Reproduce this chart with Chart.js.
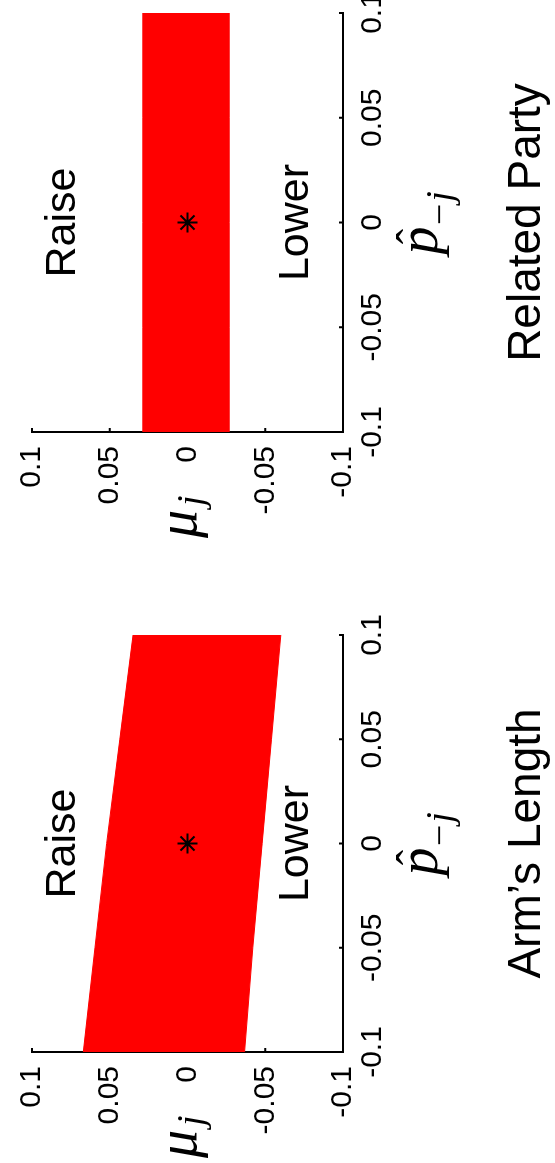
<!DOCTYPE html>
<html lang="en">
<head>
    <meta charset="UTF-8">
    <title>Arm's Length / Related Party</title>
    <style>
        body {
            margin: 0;
            padding: 0;
            background-color: #fff;
            width: 555px;
            height: 1163px;
            overflow: hidden;
            position: relative;
        }

        /* the figure is laid out landscape, then turned a quarter to the left */
        #figure {
            position: absolute;
            left: 0;
            top: 0;
            width: 1220px;
            height: 555px;
            transform-origin: 0 0;
            transform: translate(0px, 1163px) rotate(-90deg);
        }

        #armsChart {
            position: absolute;
            left: 0;
            top: 0;
        }

        #relatedChart {
            position: absolute;
            left: 620px;
            top: 0;
        }
    </style>
</head>
<body>
<div id="figure">
    <canvas id="armsChart" width="620" height="555"></canvas>
    <canvas id="relatedChart" width="600" height="555"></canvas>
</div>
<script src="https://cdn.jsdelivr.net/npm/chart.js"></script>
<script>
    // p-hat grid where the region boundaries were read
    const priceGrid = [-0.1, -0.05, 0, 0.05, 0.1];
    const armsUpper = [0.067, 0.0595, 0.052, 0.0435, 0.035];
    const armsLower = [-0.0367, -0.042, -0.048, -0.054, -0.060];
    const relatedUpper = [0.0287, 0.0287, 0.0287, 0.0287, 0.0287];
    const relatedLower = [-0.0268, -0.0268, -0.0268, -0.0268, -0.0268];
    const starPoint = [0, 0];

    const tickValues = [-0.1, -0.05, 0, 0.05, 0.1];
    const tickLabels = ['-0.1', '-0.05', '0', '0.05', '0.1'];
    const panelTitles = ['Arm\u2019s Length', 'Related Party'];
    const regionLabels = ['Raise', 'Lower'];

    const sansFont = '"Liberation Sans", Arial, Helvetica, sans-serif';
    const serifFont = '"Liberation Serif", "Times New Roman", serif';

    // inward tick marks + the text that Chart.js does not place by itself
    const labelPlugin = {
        id: 'panelLabels',
        beforeDatasetsDraw(chart) {
            const {ctx, chartArea: a, scales: {x, y}} = chart;
            ctx.save();
            ctx.strokeStyle = '#000';
            ctx.lineWidth = 2;
            ctx.beginPath();
            tickValues.forEach(v => {
                const px = x.getPixelForValue(v);
                ctx.moveTo(px, a.bottom);
                ctx.lineTo(px, a.bottom - 4);
                const py = y.getPixelForValue(v);
                ctx.moveTo(a.left, py);
                ctx.lineTo(a.left + 4, py);
            });
            ctx.stroke();
            ctx.restore();
        },
        afterDraw(chart, args, opts) {
            const {ctx, chartArea: a, scales: {x, y}} = chart;
            const cx = x.getPixelForValue(0);
            const zeroY = y.getPixelForValue(0);
            ctx.save();
            ctx.fillStyle = '#000';

            // Raise / Lower
            ctx.font = '43px ' + sansFont;
            ctx.textAlign = 'center';
            ctx.textBaseline = 'middle';
            ctx.fillText(regionLabels[0], cx, y.getPixelForValue(0.08));
            ctx.fillText(regionLabels[1], cx, y.getPixelForValue(-0.07));

            // panel title
            ctx.textBaseline = 'alphabetic';
            ctx.font = '46px ' + sansFont;
            ctx.fillText(opts.title, (a.left + a.right) / 2, a.bottom + 197);

            // x label: p-hat sub -j
            ctx.textAlign = 'left';
            ctx.font = 'italic 56px ' + serifFont;
            ctx.fillText('p', cx - 32, a.bottom + 94);
            ctx.textAlign = 'center';
            ctx.font = '46px ' + serifFont;
            ctx.fillText('\u02C6', cx - 14, a.bottom + 86);
            ctx.textAlign = 'left';
            ctx.font = 'italic 38px ' + serifFont;
            ctx.fillText('\u2212j', cx - 5, a.bottom + 109);

            // y label: mu sub j
            ctx.font = 'italic 56px ' + serifFont;
            ctx.fillText('\u03BC', a.left - 106, zeroY + 8);
            ctx.font = 'italic 38px ' + serifFont;
            ctx.fillText('j', a.left - 74, zeroY + 15);

            ctx.restore();
        }
    };

    function axisOptions(isX) {
        return {
            type: 'linear',
            min: -0.1,
            max: 0.1,
            afterBuildTicks: s => { s.ticks = tickValues.map(v => ({value: v})); },
            afterFit: s => {
                if (isX) s.height = 212;
                else s.width = 111;
            },
            grid: {display: false, drawTicks: false},
            border: {display: true, color: '#000', width: 2},
            ticks: {
                autoSkip: false,
                maxRotation: 0,
                padding: isX ? 12 : 14,
                color: '#000',
                font: {family: sansFont, size: 30},
                callback: (v, i) => tickLabels[i]
            }
        };
    }

    function makePanel(canvasId, upper, lower, title, padRight) {
        const upperPts = priceGrid.map((p, i) => ({x: p, y: upper[i]}));
        const lowerPts = priceGrid.map((p, i) => ({x: p, y: lower[i]}));
        return new Chart(document.getElementById(canvasId), {
            type: 'line',
            data: {
                datasets: [
                    {
                        type: 'scatter',
                        data: [{x: starPoint[0], y: starPoint[1]}],
                        pointStyle: 'star',
                        pointRadius: 10,
                        borderColor: '#000',
                        backgroundColor: '#000',
                        borderWidth: 2,
                        showLine: false
                    },
                    {
                        data: upperPts,
                        borderColor: '#ff0000',
                        backgroundColor: '#ff0000',
                        borderWidth: 1,
                        pointRadius: 0,
                        tension: 0,
                        fill: '+1'
                    },
                    {
                        data: lowerPts,
                        borderColor: '#ff0000',
                        borderWidth: 1,
                        pointRadius: 0,
                        tension: 0,
                        fill: false
                    }
                ]
            },
            options: {
                responsive: false,
                animation: false,
                devicePixelRatio: 1,
                layout: {
                    autoPadding: false,
                    padding: {top: 23, right: padRight, bottom: 0, left: 0}
                },
                plugins: {
                    legend: {display: false},
                    tooltip: {enabled: false},
                    panelLabels: {title: title}
                },
                scales: {
                    x: axisOptions(true),
                    y: axisOptions(false)
                }
            },
            plugins: [labelPlugin]
        });
    }

    makePanel('armsChart', armsUpper, armsLower, panelTitles[0], 92);
    makePanel('relatedChart', relatedUpper, relatedLower, panelTitles[1], 70);
</script>
</body>
</html>
